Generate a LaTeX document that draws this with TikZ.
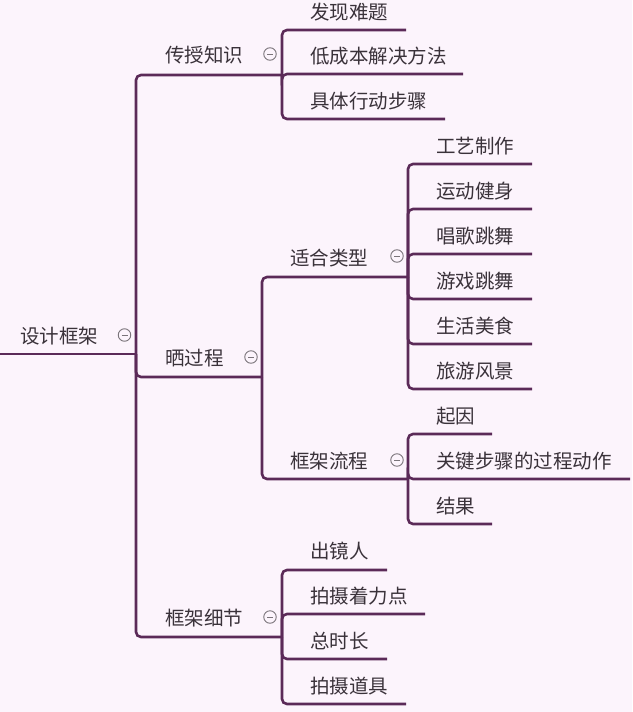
\documentclass[tikz,border=0pt]{standalone}
\usepackage{fontspec}
\newfontfamily\cjk{Noto Sans CJK SC}
\usepackage{tikz}
\definecolor{bgpink}{HTML}{FCF4FC}
\definecolor{branchpurple}{HTML}{5B2A58}
\definecolor{textgray}{HTML}{3A323A}
\definecolor{foldgray}{HTML}{7A747A}

\begin{document}
\begin{tikzpicture}[x=1pt, y=-1pt,
      topic/.style = {
        anchor=west, inner sep=0pt, text=textgray,
        font=\cjk\fontsize{19.5}{20}\selectfont },
      fold/.style = {
        circle, draw=foldgray, line width=0.9pt, fill=bgpink,
        minimum size=12.5pt, inner sep=0pt,
        path picture={\draw[foldgray, line width=0.9pt]
          ([xshift=-3pt]path picture bounding box.center) --
          ([xshift=3pt]path picture bounding box.center);} },
      branch/.style = { draw=branchpurple, line width=2.6pt, rounded corners=5pt }]
    \fill[bgpink] (0,0) rectangle (632,712);
    \useasboundingbox (0,0) rectangle (632,712);
    % underline ends of all topics
    \coordinate (design-s) at (0,354);
    \coordinate (design-j) at (136,354);
    \coordinate (teach-j) at (282,75);
    \coordinate (show-j) at (262,377);
    \coordinate (detail-j) at (282,637);
    \coordinate (type-j) at (408,277);
    \coordinate (flow-j) at (408,479);
    \coordinate (find-e) at (406,30);
    \coordinate (lowcost-e) at (463,74);
    \coordinate (steps-e) at (445,119);
    \coordinate (craft-e) at (532,164);
    \coordinate (sport-e) at (532,209);
    \coordinate (sing-e) at (532,254);
    \coordinate (game-e) at (532,299);
    \coordinate (food-e) at (532,344);
    \coordinate (travel-e) at (532,389);
    \coordinate (cause-e) at (492,434);
    \coordinate (key-e) at (630,479);
    \coordinate (result-e) at (492,524);
    \coordinate (person-e) at (387,570);
    \coordinate (focus-e) at (425,614);
    \coordinate (time-e) at (387,659);
    \coordinate (props-e) at (406,704);
    % topics
    \node [topic] (design) at (20,336) {设计框架};
    \node [topic] (teach) at (165,55.5) {传授知识};
    \node [topic] (show) at (165,358) {晒过程};
    \node [topic] (detail) at (165,618) {框架细节};
    \node [topic] (find) at (310,12) {发现难题};
    \node [topic] (lowcost) at (310,56) {低成本解决方法};
    \node [topic] (steps) at (310,101) {具体行动步骤};
    \node [topic] (type) at (290,258) {适合类型};
    \node [topic] (flow) at (290,461) {框架流程};
    \node [topic] (craft) at (436,146) {工艺制作};
    \node [topic] (sport) at (436,191) {运动健身};
    \node [topic] (sing) at (436,236) {唱歌跳舞};
    \node [topic] (game) at (436,281) {游戏跳舞};
    \node [topic] (food) at (436,326) {生活美食};
    \node [topic] (travel) at (436,371) {旅游风景};
    \node [topic] (cause) at (436,416) {起因};
    \node [topic] (key) at (436,461) {关键步骤的过程动作};
    \node [topic] (result) at (436,506) {结果};
    \node [topic] (person) at (310,551) {出镜人};
    \node [topic] (focus) at (310,596) {拍摄着力点};
    \node [topic] (time) at (310,641) {总时长};
    \node [topic] (props) at (310,686) {拍摄道具};
    % connect all topics
    \draw[branch] (design-s) -- (design-j);
    \draw[branch] (design-j) |- (teach-j);
    \draw[branch] (design-j) |- (show-j);
    \draw[branch] (design-j) |- (detail-j);
    \draw[branch] (teach-j) |- (find-e);
    \draw[branch] (teach-j) |- (lowcost-e);
    \draw[branch] (teach-j) |- (steps-e);
    \draw[branch] (show-j) |- (type-j);
    \draw[branch] (show-j) |- (flow-j);
    \draw[branch] (type-j) |- (craft-e);
    \draw[branch] (type-j) |- (sport-e);
    \draw[branch] (type-j) |- (sing-e);
    \draw[branch] (type-j) |- (game-e);
    \draw[branch] (type-j) |- (food-e);
    \draw[branch] (type-j) |- (travel-e);
    \draw[branch] (flow-j) |- (cause-e);
    \draw[branch] (flow-j) |- (key-e);
    \draw[branch] (flow-j) |- (result-e);
    \draw[branch] (detail-j) |- (person-e);
    \draw[branch] (detail-j) |- (focus-e);
    \draw[branch] (detail-j) |- (time-e);
    \draw[branch] (detail-j) |- (props-e);
    % fold markers
    \node [fold] (design-f) at (124.5,335) {};
    \node [fold] (teach-f) at (270,54) {};
    \node [fold] (show-f) at (251,357) {};
    \node [fold] (type-f) at (397,256) {};
    \node [fold] (flow-f) at (397,460) {};
    \node [fold] (detail-f) at (270,617) {};
  \end{tikzpicture}
\end{document}
